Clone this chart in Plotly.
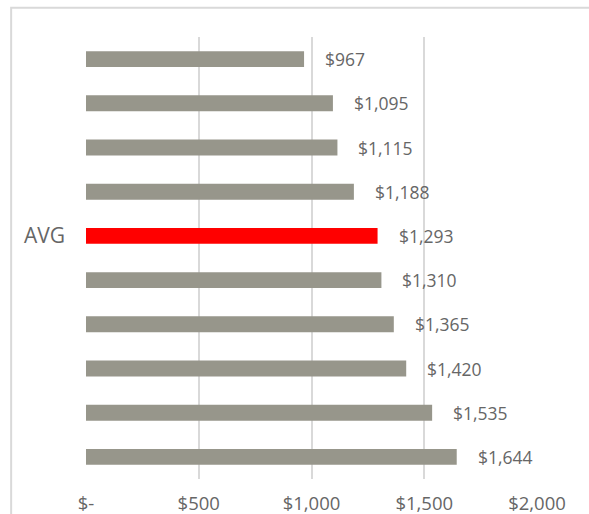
import plotly.graph_objects as go

categories = ["A", "B", "C", "D", "AVG", "F", "G", "H", "I", "J"]
values = [967, 1095, 1115, 1188, 1293, 1310, 1365, 1420, 1535, 1644]
labels = ["$967", "$1,095", "$1,115", "$1,188", "$1,293", "$1,310", "$1,365", "$1,420", "$1,535", "$1,644"]
tick_vals = [0, 500, 1000, 1500, 2000]
tick_text = ["$-", "$500", "$1,000", "$1,500", "$2,000"]

colors = ["#ff0000" if c == "AVG" else "#97968b" for c in categories]
FONT = "Open Sans"

fig = go.Figure()
fig.add_trace(go.Bar(
    y=categories, x=values, orientation="h",
    marker=dict(color=colors, line=dict(width=0)),
    hoverinfo="skip",
))

for c, v, t in zip(categories, values, labels):
    fig.add_annotation(x=v, y=c, text=t, showarrow=False, xanchor="left",
                       xshift=19, font=dict(family=FONT, size=17.5, color="#666666"))

fig.add_shape(type="rect", xref="paper", yref="paper",
              x0=-0.166, x1=1.5, y0=-0.3, y1=1.066,
              line=dict(color="#d9d9d9", width=2), fillcolor="rgba(0,0,0,0)", layer="below")

fig.update_layout(
    width=589, height=514,
    margin=dict(l=86, r=52, t=37, b=35),
    paper_bgcolor="white", plot_bgcolor="white",
    bargap=0.64,
    showlegend=False,
    font=dict(family=FONT, size=17, color="#666666"),
    xaxis=dict(range=[0, 2000], tickvals=tick_vals, ticktext=tick_text,
               showgrid=True, gridcolor="#d9d9d9", gridwidth=2,
               zeroline=False, showline=False, ticks="", automargin=False,
               tickfont=dict(family=FONT, size=18.5, color="#666666"),
               ticklabelstandoff=11, fixedrange=True),
    yaxis=dict(categoryorder="array", categoryarray=categories, autorange="reversed",
               tickvals=categories,
               ticktext=["AVG" if c == "AVG" else "" for c in categories],
               tickfont=dict(family=FONT, size=21, color="#666666"),
               showgrid=False, zeroline=False, showline=False, ticks="", automargin=False,
               ticklabelstandoff=20, fixedrange=True),
)

fig.write_html("out.html", config={"displayModeBar": False},
               post_script="document.body.style.margin='0';document.body.style.overflow='hidden';")
